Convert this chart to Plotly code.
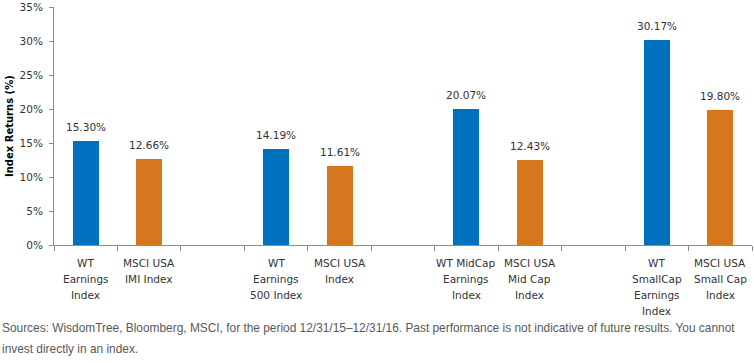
import plotly.graph_objects as go

categories = ["WT<br>Earnings<br>Index", "MSCI USA<br>IMI Index", "",
              "WT<br>Earnings<br>500 Index", "MSCI USA<br>Index", "",
              "WT MidCap<br>Earnings<br>Index", "MSCI USA<br>Mid Cap<br>Index", "",
              "WT<br>SmallCap<br>Earnings<br>Index", "MSCI USA<br>Small Cap<br>Index"]
values = [15.30, 12.66, None, 14.19, 11.61, None, 20.07, 12.43, None, 30.17, 19.80]
series = ["wt", "msci", None, "wt", "msci", None, "wt", "msci", None, "wt", "msci"]
y_ticks = [0, 5, 10, 15, 20, 25, 30, 35]
colors = {"wt": "#0071BC", "msci": "#D7771D"}
footnote = ["Sources: WisdomTree, Bloomberg, MSCI, for the period 12/31/15\u201312/31/16. Past performance is not indicative of future results. You cannot",
            "invest directly in an index."]

FONT = "Tahoma, 'DejaVu Sans', sans-serif"
TXT = "#333333"

fig = go.Figure()
for key in ["wt", "msci"]:
    xs = [i for i, s in enumerate(series) if s == key]
    ys = [values[i] for i in xs]
    fig.add_trace(go.Bar(x=xs, y=ys, width=0.41, marker_color=colors[key],
                         marker_line_width=0, showlegend=False))
    for x, y in zip(xs, ys):
        fig.add_annotation(x=x, y=y, xref="x", yref="y", text=f"{y:.2f}%",
                           showarrow=False, yanchor="bottom", yshift=6,
                           font=dict(family=FONT, size=10.5, color=TXT))

for i, lab in enumerate(categories):
    if lab:
        for j, line in enumerate(lab.split("<br>")):
            fig.add_annotation(x=i, y=0, xref="x", yref="paper", text=line,
                               showarrow=False, yanchor="middle",
                               yshift=-(18 + 16 * j),
                               font=dict(family=FONT, size=10.5, color=TXT))

fig.add_annotation(x=0, y=0.5, xref="paper", yref="paper", xshift=-45, xanchor="center",
                   yanchor="middle",
                   text="<b>Index Returns (%)</b>", textangle=-90, showarrow=False,
                   font=dict(family=FONT, size=10, color="#000000"))

for j, line in enumerate(footnote):
    fig.add_annotation(x=0, y=0, xref="paper", yref="paper", xanchor="left", yanchor="middle",
                       xshift=-54, yshift=-(83 + 21 * j), align="left", text=line,
                       showarrow=False,
                       font=dict(family="'Liberation Sans Narrow', 'Arial Narrow', sans-serif",
                                 size=11.9, color="#595959"))

fig.update_layout(
    width=754, height=363,
    margin=dict(l=54, r=2, t=7, b=118),
    plot_bgcolor="white", paper_bgcolor="white",
    bargap=0,
)
fig.update_xaxes(range=[-0.5, 10.5], tickmode="array",
                 tickvals=[i - 0.5 for i in range(12)], showticklabels=False,
                 ticks="outside", ticklen=5, tickcolor="#8c8c8c",
                 showline=True, linecolor="#8c8c8c", linewidth=1, showgrid=False, zeroline=False)
fig.update_yaxes(range=[0, 35], tickmode="array", tickvals=y_ticks,
                 ticktext=[f"{v}%" for v in y_ticks],
                 ticks="outside", ticklen=4, tickcolor="#8c8c8c", ticklabelstandoff=4,
                 showline=True, linecolor="#8c8c8c", linewidth=1, showgrid=False, zeroline=False,
                 tickfont=dict(family=FONT, size=10.5, color=TXT))

fig.write_html("out.html")
